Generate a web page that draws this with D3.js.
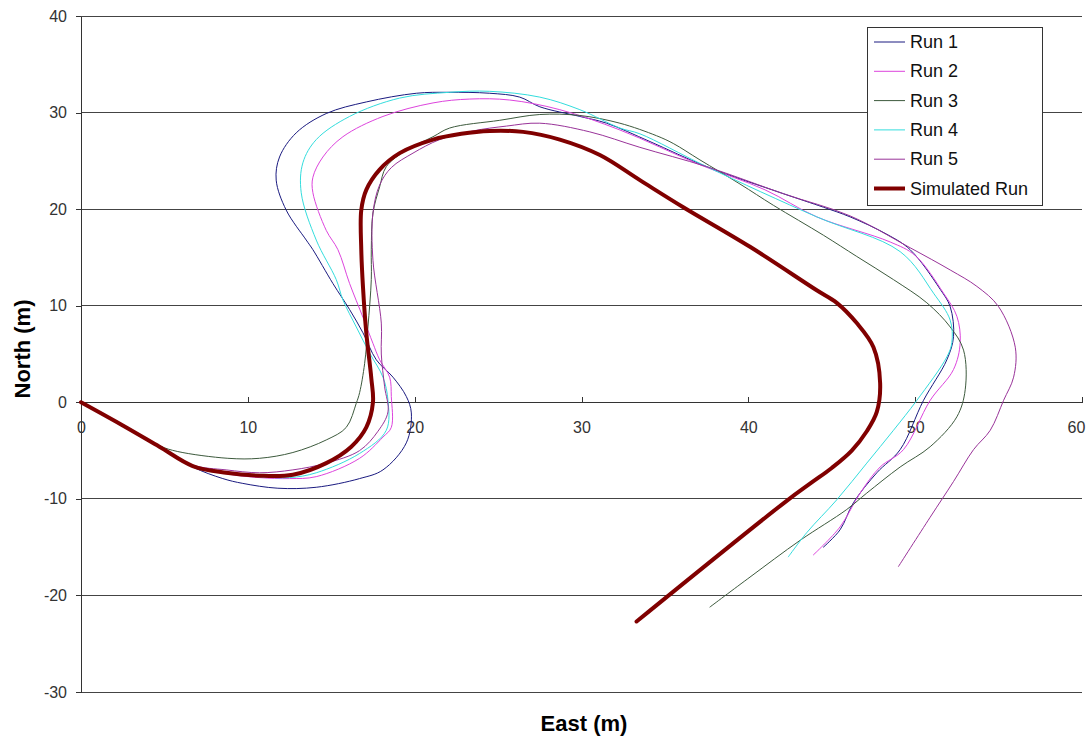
<!DOCTYPE html>
<html>
<head>
<meta charset="utf-8">
<script src="https://cdn.jsdelivr.net/npm/d3@7"></script>
<style>
  html, body { margin: 0; padding: 0; background: #fff; }
  svg { display: block; }
</style>
</head>
<body>
<svg id="chart" width="1089" height="740"></svg>
<script>
// Track positions [east (m), north (m)]
const run1 = [[0,0],[2.4,-2.3],[4.7,-4.6],[6.7,-6.7],[8.5,-7.9],[9.7,-8.4],[11.8,-8.9],[14.1,-8.8],[16.7,-7.9],[18.1,-7.0],[19.5,-4.2],[19.8,-1.1],[19.5,0.6],[18.7,2.6],[17.7,4.4],[16.9,7.2],[16.1,9.6],[15.1,12.3],[13.9,15.8],[13.5,16.8],[12.3,19.9],[11.7,23.0],[11.9,25.4],[12.9,27.9],[14.7,29.9],[17.1,31.1],[20.1,32.0],[22,32.1],[24.5,32.0],[26.3,31.6],[27.5,30.6],[29.9,29.6],[31.5,28.9],[34.1,27.0],[37.5,24.4],[42.1,21.6],[44.5,20.2],[46.1,19.2],[48.3,17.4],[49.7,15.8],[51.5,11.7],[52.1,9.9],[52.3,6.8],[51.9,4.4],[50.5,0.2],[49.1,-4.9],[47.7,-7.3],[46.3,-10.4],[45.5,-13.2],[44.5,-15.0]];
const run2 = [[0,0],[2.4,-2.3],[4.7,-4.6],[6.7,-6.6],[8.7,-7.4],[10.7,-7.8],[12.5,-7.9],[14.1,-7.7],[16.7,-5.8],[18.1,-3.6],[18.6,-2.6],[18.6,0.6],[18.5,2.6],[17.9,4.4],[17.5,6.1],[16.9,8.8],[16.1,12.3],[15.4,15.8],[14.7,17.8],[13.9,21.7],[13.9,23.3],[14.5,25.4],[15.7,27.5],[18.1,29.6],[21.1,31.0],[23.3,31.4],[25.7,31.3],[28.7,30.3],[32.3,28.2],[37.1,24.6],[41.0,22.0],[44.1,19.2],[48.5,16.6],[50.0,15.2],[51.7,11.3],[52.5,8.9],[52.7,6.2],[52.3,3.4],[50.9,0.2],[49.3,-4.9],[47.9,-6.7],[46.7,-9.4],[45.5,-12.9],[43.9,-15.8]];
const run3 = [[0,0],[2.4,-2.3],[4.7,-4.5],[5.8,-5.1],[8.8,-5.8],[10.7,-5.8],[12.7,-5.2],[14.7,-3.9],[15.9,-2.6],[16.5,-0.1],[16.7,1.0],[17.0,4.0],[17.2,7.8],[17.4,12.7],[17.4,15.8],[17.5,19.6],[17.9,22.3],[18.3,24.4],[19.5,26.1],[21.1,27.5],[22.1,28.4],[25.1,29.2],[27.5,29.8],[29.9,29.7],[32.3,28.9],[34.5,27.6],[35.5,26.8],[37.1,25.1],[39.5,22.6],[41.5,20.4],[44.5,17.3],[46.5,15.1],[48.7,12.7],[50.7,10.3],[52.1,7.8],[52.9,5.4],[53.0,1.3],[52.5,-1.5],[50.9,-4.6],[49.1,-6.7],[47.1,-9.4],[45.9,-11.1],[43.1,-14.3],[40.1,-18.1],[37.7,-21.2]];
const run4 = [[0,0],[2.4,-2.3],[4.7,-4.6],[6.7,-6.6],[8.7,-7.3],[10.7,-7.7],[12.5,-7.8],[14.1,-7.3],[16.7,-5.3],[18.3,-2.9],[18.4,0.2],[18.1,2.6],[17.3,5.1],[16.5,7.8],[15.7,10.6],[15.3,12.7],[14.1,16.8],[13.2,21.7],[13.3,24.8],[14.1,27.2],[16.1,29.6],[19.1,31.5],[22.1,32.1],[24.5,32.2],[27.5,31.6],[29.9,30.3],[32.3,28.4],[33.5,27.8],[37.5,24.4],[44.1,19.2],[49.1,15.6],[51.1,11.3],[52.1,8.5],[52.2,6.2],[51.9,4.7],[50.1,0.2],[48.7,-2.9],[47.1,-6.3],[45.3,-10.1],[43.5,-13.5],[42.4,-16.0]];
const run5 = [[0,0],[2.4,-2.3],[4.7,-4.6],[6.7,-6.5],[8.7,-7.0],[10.7,-7.3],[12.7,-7.0],[14.7,-6.3],[16.7,-5.0],[17.8,-3.0],[18.4,-1.0],[18.2,1.6],[18.0,5.0],[18.0,8.2],[17.5,14.7],[17.5,19.6],[17.9,22.5],[18.6,24.3],[19.9,25.8],[21.5,27.2],[23.5,28.1],[25.5,28.6],[27.5,28.9],[30.5,28.0],[33.5,26.4],[37.5,24.4],[42.1,21.6],[46.1,19.3],[49.7,16.0],[52.1,13.7],[53.7,12.0],[55.0,9.9],[56.0,5.7],[55.9,2.6],[55.3,0.2],[54.5,-2.9],[53.5,-4.9],[52.3,-8.2],[50.9,-11.9],[49.0,-17.0]];
const simulated = [[0,0],[2.4,-2.3],[4.7,-4.6],[6.7,-6.6],[8.7,-7.3],[10.7,-7.6],[12.7,-7.5],[14.7,-6.3],[16.2,-4.6],[17.1,-2.6],[17.5,0],[17.4,2.5],[17.1,7.2],[16.9,12.0],[16.8,15.8],[16.8,19.9],[17.1,22.0],[17.9,24.1],[19.1,25.8],[21.1,27.2],[22.8,27.8],[24.5,28.1],[26.5,28.0],[28.7,27.2],[31.1,25.6],[33.5,23.0],[36.1,20.2],[40.1,16.1],[44.1,11.6],[45.3,10.3],[46.5,8.2],[47.5,5.7],[47.9,2.0],[47.7,-1.0],[47.1,-3.0],[46.2,-5.0],[45.0,-6.8],[43.8,-8.3],[42.3,-10.2],[33.3,-22.7]];

const seriesNames = ["Run 1", "Run 2", "Run 3", "Run 4", "Run 5", "Simulated Run"];
const seriesData = [run1, run2, run3, run4, run5, simulated];
const seriesColors = ["#1a1a80", "#dd44dd", "#3d5a3d", "#33dddd", "#993399", "#800000"];
const seriesWidths = [1, 1, 1, 1, 1, 4];

const xTicks = [0, 10, 20, 30, 40, 50, 60];
const yTicks = [-30, -20, -10, 0, 10, 20, 30, 40];

const FONT = "Arial, 'Liberation Sans', sans-serif";
const svg = d3.select("#chart");
const x = d3.scaleLinear().domain([0, 60]).range([81, 1082]);
const y = d3.scaleLinear().domain([-30, 40]).range([692, 16]);
const fmt = d => String(d);

// horizontal gridlines
svg.append("g")
  .selectAll("line")
  .data(yTicks)
  .join("line")
  .attr("x1", x(0)).attr("x2", x(60))
  .attr("y1", d => y(d)).attr("y2", d => y(d))
  .attr("stroke", "#444").attr("stroke-width", 1)
  .attr("shape-rendering", "crispEdges");

// y axis
const yAxis = svg.append("g")
  .attr("transform", `translate(${x(0)},0)`)
  .call(d3.axisLeft(y).tickValues(yTicks).tickFormat(fmt).tickSize(5).tickSizeOuter(0).tickPadding(9));
yAxis.select(".domain").attr("stroke", "#333").attr("shape-rendering", "crispEdges");
yAxis.selectAll(".tick line").attr("stroke", "#333").attr("shape-rendering", "crispEdges");
yAxis.selectAll("text")
  .attr("font-family", FONT)
  .attr("font-size", 16).attr("fill", "#333");

// x axis through north = 0
const xAxis = svg.append("g")
  .attr("transform", `translate(0,${y(0)})`)
  .call(d3.axisBottom(x).tickValues(xTicks).tickFormat(fmt).tickSize(-5).tickSizeOuter(0).tickPadding(19));
xAxis.select(".domain").attr("stroke", "#333").attr("shape-rendering", "crispEdges");
xAxis.selectAll(".tick line").attr("stroke", "#333").attr("shape-rendering", "crispEdges");
xAxis.selectAll("text")
  .attr("font-family", FONT)
  .attr("font-size", 16).attr("fill", "#333")
  .attr("dx", d => d === 60 ? -6 : 0);

// tracks
const line = d3.line()
  .x(d => x(d[0]))
  .y(d => y(d[1]))
  .curve(d3.curveCatmullRom.alpha(0.5));

svg.append("g")
  .selectAll("path")
  .data(seriesData)
  .join("path")
  .attr("d", d => line(d))
  .attr("fill", "none")
  .attr("stroke", (d, i) => seriesColors[i])
  .attr("stroke-width", (d, i) => seriesWidths[i])
  .attr("stroke-linejoin", "round")
  .attr("stroke-linecap", "round");

// axis titles
svg.append("text")
  .attr("x", 584).attr("y", 731)
  .attr("text-anchor", "middle")
  .attr("font-family", FONT)
  .attr("font-size", 22).attr("font-weight", "bold")
  .text("East (m)");

svg.append("text")
  .attr("transform", "translate(30,349) rotate(-90)")
  .attr("text-anchor", "middle")
  .attr("font-family", FONT)
  .attr("font-size", 22).attr("font-weight", "bold")
  .text("North (m)");

// legend
const legend = svg.append("g").attr("transform", "translate(867,27)");
legend.append("rect")
  .attr("x", 0.5).attr("y", 0.5).attr("width", 175).attr("height", 178)
  .attr("fill", "#fff").attr("stroke", "#333").attr("stroke-width", 1);
const items = legend.selectAll("g.item")
  .data(seriesNames)
  .join("g")
  .attr("class", "item")
  .attr("transform", (d, i) => `translate(0,${15 + i * 29.3})`);
items.append("line")
  .attr("x1", 7).attr("x2", 38).attr("y1", 0).attr("y2", 0)
  .attr("stroke", (d, i) => seriesColors[i])
  .attr("stroke-width", (d, i) => seriesWidths[i]);
items.append("text")
  .attr("x", 43).attr("y", 6)
  .attr("font-family", FONT)
  .attr("font-size", 18).attr("fill", "#111")
  .text(d => d);
</script>
</body>
</html>
